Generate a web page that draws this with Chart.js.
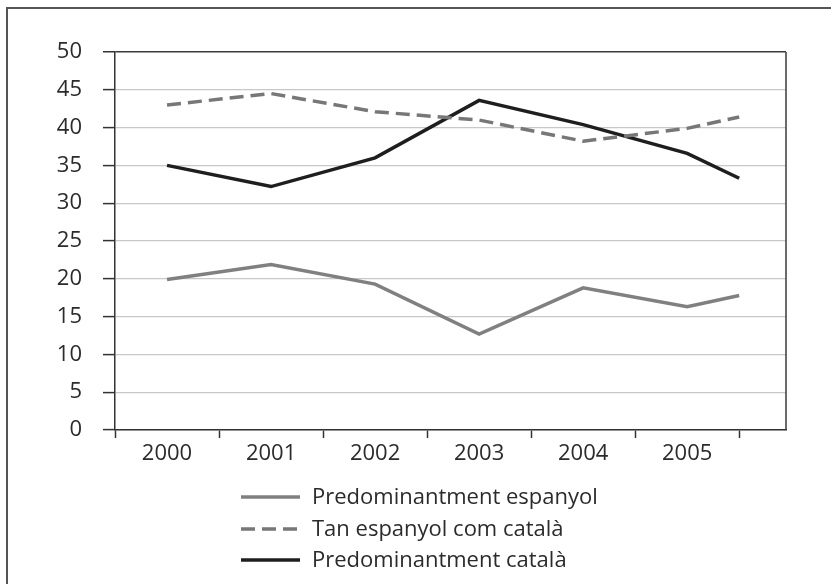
<!DOCTYPE html>
<html>
<head>
<meta charset="utf-8">
<script src="https://cdn.jsdelivr.net/npm/chart.js@4/dist/chart.umd.min.js"></script>
<style>
  html, body { margin: 0; padding: 0; background: #fff; }
  #wrap { width: 831px; height: 584px; }
</style>
</head>
<body>
<div id="wrap"><canvas id="chart" width="831" height="584"></canvas></div>
<script>
// category labels and the x index each point sits at (last point sits on the 2005/2006 boundary)
const years = ['2000', '2001', '2002', '2003', '2004', '2005'];
const pointIndex = [0, 1, 2, 3, 4, 5, 5.5];

const seriesNames = ['Predominantment espanyol', 'Tan espanyol com català', 'Predominantment català'];
const espanyol = [19.9, 21.9, 19.3, 12.7, 18.8, 16.3, 17.8];
const tanCom = [43.0, 44.5, 42.1, 41.0, 38.2, 39.9, 41.4];
const catala = [35.0, 32.2, 36.0, 43.6, 40.4, 36.6, 33.3];

const yTicks = [0, 5, 10, 15, 20, 25, 30, 35, 40, 45, 50];

const FONT = '"Open Sans", sans-serif';
const TEXT = '#2b2b2b';

function toPoints(values) {
    return values.map((v, i) => ({ x: pointIndex[i], y: v }));
}

// outer frame + plot box right edge
const framePlugin = {
    id: 'frame',
    beforeDraw(chart) {
        const c = chart.ctx;
        c.save();
        c.strokeStyle = '#555';
        c.lineWidth = 2;
        c.beginPath();
        c.moveTo(7, 584);
        c.lineTo(7, 8);
        c.lineTo(831, 8);
        c.stroke();
        c.restore();
    },
    afterDatasetsDraw(chart) {
        const a = chart.chartArea;
        const c = chart.ctx;
        c.save();
        c.strokeStyle = '#3a3a3a';
        c.lineWidth = 1.5;
        c.beginPath();
        c.moveTo(a.right, a.top);
        c.lineTo(a.right, a.bottom);
        c.stroke();
        c.restore();
    }
};

// stacked legend below the axis, left aligned
const stackLegend = {
    id: 'stackLegend',
    afterDraw(chart) {
        const c = chart.ctx;
        const x0 = 241, x1 = 300, tx = 312;
        const rows = [497, 529, 560];
        c.save();
        c.font = '22px ' + FONT;
        c.textBaseline = 'middle';
        c.fillStyle = TEXT;
        chart.data.datasets.forEach((ds, i) => {
            c.strokeStyle = ds.borderColor;
            c.lineWidth = ds.borderWidth;
            c.setLineDash(ds.borderDash || []);
            c.beginPath();
            c.moveTo(x0, rows[i]);
            c.lineTo(x1, rows[i]);
            c.stroke();
            c.setLineDash([]);
            c.fillText(ds.label, tx, rows[i] + 1);
        });
        c.restore();
    }
};

const ctx = document.getElementById('chart').getContext('2d');
new Chart(ctx, {
    type: 'line',
    data: {
        datasets: [
            { label: seriesNames[0], data: toPoints(espanyol), borderColor: '#808080', borderWidth: 3.5 },
            { label: seriesNames[1], data: toPoints(tanCom), borderColor: '#777777', borderWidth: 3.5, borderDash: [14, 7] },
            { label: seriesNames[2], data: toPoints(catala), borderColor: '#1e1e1e', borderWidth: 3.5 }
        ]
    },
    options: {
        responsive: false,
        animation: false,
        layout: { padding: { left: 0, top: 52, right: 45, bottom: 0 } },
        elements: {
            point: { radius: 0 },
            line: { tension: 0, borderCapStyle: 'butt', borderJoinStyle: 'miter' }
        },
        plugins: {
            legend: { display: false },
            tooltip: { enabled: false }
        },
        scales: {
            x: {
                type: 'linear',
                min: -0.5,
                max: 5.95,
                afterBuildTicks(scale) {
                    const t = [];
                    for (let v = -0.5; v <= 5.5; v += 0.5) t.push({ value: v });
                    scale.ticks = t;
                },
                afterFit(scale) { scale.height = 584 - 430; },
                border: { color: '#333', width: 1.5 },
                grid: {
                    drawOnChartArea: false,
                    drawTicks: true,
                    tickLength: 8,
                    tickWidth: 1.5,
                    tickColor: c => Number.isInteger(c.tick.value) ? 'rgba(0,0,0,0)' : '#333'
                },
                ticks: {
                    autoSkip: false,
                    maxRotation: 0,
                    padding: 3,
                    color: TEXT,
                    font: { family: FONT, size: 22 },
                    callback: v => Number.isInteger(v) ? years[v] : ''
                }
            },
            y: {
                min: 0,
                max: 50,
                afterBuildTicks(scale) {
                    scale.ticks = yTicks.map(v => ({ value: v }));
                },
                afterFit(scale) { scale.width = 115; },
                border: { color: '#333', width: 1.5 },
                grid: {
                    color: c => c.tick.value === 50 ? '#3a3a3a' : '#c8c8c8',
                    lineWidth: c => c.tick.value === 50 ? 1.5 : 1.2,
                    tickLength: 12,
                    tickColor: '#333',
                    tickWidth: 1.5
                },
                ticks: {
                    padding: 21,
                    color: TEXT,
                    font: { family: FONT, size: 22 }
                }
            }
        }
    },
    plugins: [framePlugin, stackLegend]
});
</script>
</body>
</html>
